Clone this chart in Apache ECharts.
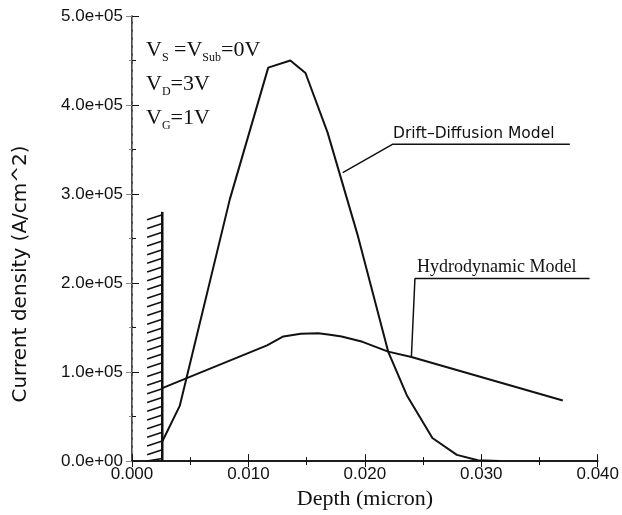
<!DOCTYPE html>
<html>
<head>
<meta charset="utf-8">
<script src="https://cdn.jsdelivr.net/npm/echarts@6/dist/echarts.min.js"></script>
<style>
  html, body { margin: 0; padding: 0; background: #fff; }
  #main { width: 622px; height: 515px; }
</style>
</head>
<body>
<div id="main"></div>
<script>
// depth (micron) and current density (A/cm^2)
const ddDepth = [0.0026, 0.0041, 0.0084, 0.0117, 0.0136, 0.0149, 0.0168, 0.0194, 0.0220, 0.0236, 0.0258, 0.0279, 0.0297, 0.0316]
const ddCurrent = [0.22e5, 0.62e5, 2.94e5, 4.42e5, 4.50e5, 4.36e5, 3.69e5, 2.53e5, 1.23e5, 0.74e5, 0.26e5, 0.07e5, 0.01e5, 0]

const hdDepth = [0.0026, 0.0116, 0.0130, 0.0145, 0.0160, 0.0170, 0.0180, 0.0198, 0.0220, 0.0240, 0.0370]
const hdCurrent = [0.82e5, 1.30e5, 1.40e5, 1.43e5, 1.435e5, 1.42e5, 1.40e5, 1.34e5, 1.23e5, 1.17e5, 0.68e5]

// oxide wall (hatched) : left edge, interface, top
const wallDepth = [0.0013, 0.0026]
const wallTop = 2.8e5

// leader lines of the two annotations
const ddLeader = [[0.0181, 3.24e5], [0.0224, 3.56e5], [0.0376, 3.56e5]]
const hdLeader = [[0.0240, 1.18e5], [0.0243, 2.05e5], [0.0393, 2.05e5]]

const xTicks = [0, 0.04, 0.01]
const yTicks = [0, 5e5, 1e5]

const zip = (a, b) => a.map((v, i) => [v, b[i]])

const expLabel = v => {
  const [m, e] = v.toExponential(1).split('e')
  return m + 'e' + e[0] + e.slice(1).padStart(2, '0')
}

const chart = echarts.init(document.getElementById('main'))

const tickFont = { fontFamily: 'Liberation Sans, Arial, sans-serif', fontSize: 17, color: '#111' }
const serif = 'Liberation Serif, Times New Roman, serif'

chart.setOption({
  backgroundColor: '#ffffff',
  animation: false,
  grid: { left: 132, right: 24, top: 16, bottom: 52 },
  xAxis: [
    {
      type: 'value', min: xTicks[0], max: xTicks[1], interval: xTicks[2],
      name: 'Depth (micron)', nameLocation: 'middle', nameGap: 21,
      nameTextStyle: { fontFamily: serif, fontSize: 22, color: '#111' },
      axisLine: { lineStyle: { color: '#111', width: 1.5 } },
      axisTick: { inside: true, length: 7, lineStyle: { color: '#111' } },
      minorTick: { show: true, splitNumber: 2, length: 4, lineStyle: { color: '#111' } },
      axisLabel: Object.assign({ formatter: v => v.toFixed(3), margin: 5 }, tickFont),
      splitLine: { show: false }
    },
    {
      type: 'value', position: 'top', min: xTicks[0], max: xTicks[1], interval: xTicks[2],
      axisLine: { show: true, lineStyle: { color: '#111', width: 1.5 } },
      axisTick: { inside: true, length: 6, lineStyle: { color: '#111' } },
      minorTick: { show: true, splitNumber: 2, length: 4, lineStyle: { color: '#111' } },
      axisLabel: { show: false },
      splitLine: { show: false }
    }
  ],
  yAxis: [
    {
      type: 'value', min: yTicks[0], max: yTicks[1], interval: yTicks[2],
      axisLine: { lineStyle: { color: '#111', width: 1.5 } },
      axisTick: { inside: true, length: 7, lineStyle: { color: '#111' } },
      minorTick: { show: true, splitNumber: 2, length: 4, lineStyle: { color: '#111' } },
      axisLabel: Object.assign({ formatter: expLabel, margin: 9 }, tickFont),
      splitLine: { show: false }
    },
    {
      type: 'value', position: 'right', min: yTicks[0], max: yTicks[1], interval: yTicks[2],
      axisLine: { show: true, lineStyle: { color: '#888', width: 1, type: [5, 3] } },
      axisTick: { inside: true, length: 6, lineStyle: { color: '#888' } },
      minorTick: { show: true, splitNumber: 2, length: 3, lineStyle: { color: '#888' } },
      axisLabel: { show: false },
      splitLine: { show: false }
    }
  ],
  series: [
    {
      name: 'Drift-Diffusion Model', type: 'line', data: zip(ddDepth, ddCurrent),
      showSymbol: false, lineStyle: { color: '#111', width: 2 }, z: 5
    },
    {
      name: 'Hydrodynamic Model', type: 'line', data: zip(hdDepth, hdCurrent),
      showSymbol: false, lineStyle: { color: '#111', width: 2 }, z: 5
    },
    {
      type: 'line', data: ddLeader, showSymbol: false, silent: true,
      lineStyle: { color: '#111', width: 1.5 }
    },
    {
      type: 'line', data: hdLeader, showSymbol: false, silent: true,
      lineStyle: { color: '#111', width: 1.5 }
    },
    {
      // hatched wall
      type: 'custom', silent: true, z: 4,
      data: [[wallDepth[0], wallDepth[1], wallTop]],
      renderItem: (params, api) => {
        const left = api.coord([api.value(0), 0])
        const right = api.coord([api.value(1), api.value(2)])
        const x0 = left[0], x1 = right[0], yb = left[1], yt = right[1]
        const children = [{
          type: 'line',
          shape: { x1: x1, y1: yb, x2: x1, y2: yt },
          style: { stroke: '#111', lineWidth: 2.5 }
        }]
        const step = 8.7, rise = 5
        for (let y = yt + 3; y <= yb + 1; y += step) {
          children.push({
            type: 'line',
            shape: { x1: x0, y1: Math.min(y + rise, yb), x2: x1, y2: y },
            style: { stroke: '#111', lineWidth: 1.6 }
          })
        }
        return { type: 'group', children: children }
      }
    }
  ],
  graphic: [
    {
      // y axis title, sits a bit below the middle in the original
      type: 'text', x: 21, y: 274, rotation: Math.PI / 2,
      style: {
        text: 'Current density (A/cm^2)', fontFamily: 'DejaVu Sans, sans-serif', fontSize: 20,
        fill: '#111', align: 'center', verticalAlign: 'middle'
      }
    },
    {
      type: 'text', left: 146, top: 37,
      style: {
        text: '{v|V}{s|S}{v| =V}{s|Sub}{v|=0V}\n{v|V}{s|D}{v|=3V}\n{v|V}{s|G}{v|=1V}',
        rich: {
          v: { fontFamily: serif, fontSize: 22, lineHeight: 34, fill: '#111' },
          s: { fontFamily: serif, fontSize: 12, lineHeight: 34, padding: [15, 0, 0, 0], fill: '#111' }
        }
      }
    },
    {
      type: 'text', left: 393, top: 126,
      style: { text: 'Drift\u2013Diffusion Model', fontFamily: 'DejaVu Sans, sans-serif', fontSize: 15.5, fill: '#111' }
    },
    {
      type: 'text', left: 417, top: 258,
      style: { text: 'Hydrodynamic Model', fontFamily: serif, fontSize: 18, fill: '#111' }
    }
  ]
})
</script>
</body>
</html>
